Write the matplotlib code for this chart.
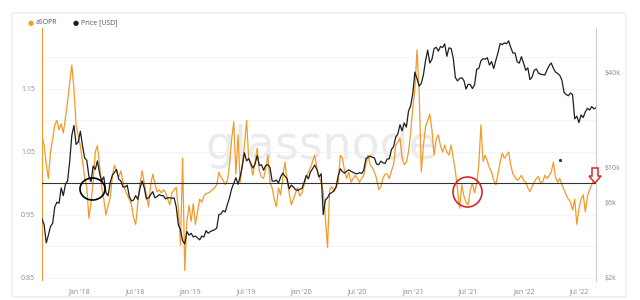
import matplotlib
matplotlib.use('Agg')
import matplotlib.pyplot as plt
from matplotlib.patches import Ellipse, FancyBboxPatch, Polygon
import pandas as pd

plt.rcParams['font.family'] = ['Open Sans', 'DejaVu Sans']

# weekly samples, end of Aug 2017 to Aug 2022
dates = pd.date_range('2017-08-30', periods=261, freq='7D')

asopr = [
    1.075, 1.06, 1.03, 1.008, 1.05, 1.07, 1.093, 1.1, 1.085, 1.095,
    1.08, 1.104, 1.13, 1.16, 1.188, 1.15, 1.093, 1.075, 1.06, 1.035,
    1.01, 0.995, 0.945, 0.97, 1.002, 1.05, 1.06, 1.03, 0.995, 0.975,
    0.95, 0.965, 0.977, 1.01, 1.029, 1.018, 1.01, 1.02, 1.002, 0.99,
    0.982, 0.975, 0.966, 0.945, 0.935, 0.971, 1.0, 1.02, 1.0, 0.982,
    0.963, 0.998, 1.015, 1.0, 0.987, 0.99, 0.985, 0.99, 0.986, 0.975,
    0.966, 0.985, 0.99, 0.994, 0.96, 0.902, 1.04, 0.862, 0.94, 0.965,
    0.94, 0.968, 0.935, 0.955, 0.975, 0.97, 0.98, 0.984, 0.985, 0.987,
    0.99, 0.993, 0.998, 1.018, 1.01, 1.005, 0.998, 1.005, 1.029, 1.07,
    1.098, 1.015, 1.077, 1.002, 1.03, 1.06, 1.1, 1.04, 1.029, 1.013,
    1.035, 1.056, 1.02, 1.01, 1.008, 1.023, 1.045, 1.002, 0.993, 0.975,
    0.963, 0.993, 0.982, 1.01, 1.034, 1.005, 0.985, 0.966, 0.975, 0.985,
    0.993, 0.98, 0.985, 0.998, 1.01, 1.018, 1.025, 1.035, 1.045, 1.025,
    1.01, 1.002, 0.987, 0.945, 0.898, 0.99, 0.995, 0.987, 0.993, 1.002,
    1.045, 1.04, 1.02, 1.008, 1.018, 1.002, 1.008, 1.013, 1.008, 1.002,
    1.008, 1.013, 1.03, 1.045, 1.03, 1.025, 1.018, 1.008, 0.99, 0.995,
    1.008, 1.015, 1.015, 1.008, 1.02, 1.03, 1.061, 1.065, 1.072, 1.04,
    1.03, 1.034, 1.05, 1.08, 1.12, 1.15, 1.212, 1.145, 1.018, 1.06,
    1.09, 1.1, 1.11, 1.085, 1.045, 1.07, 1.077, 1.06, 1.05, 1.061,
    1.05, 1.045, 1.061, 1.04, 1.02, 0.99, 0.961, 0.998, 0.98, 0.97,
    0.966, 0.99, 1.0, 0.985, 1.0, 1.03, 1.093, 1.035, 1.045, 1.035,
    1.025, 1.018, 1.005, 0.998, 1.015, 1.034, 1.048, 1.04, 1.045, 1.05,
    1.029, 1.015, 1.01, 1.005, 1.008, 1.013, 1.005, 1.002, 0.993, 0.987,
    0.995, 1.002, 1.008, 1.011, 1.0, 1.003, 1.013, 1.008, 1.012, 1.018,
    1.034, 1.01, 1.002, 1.008, 0.998, 0.99, 0.982, 0.975, 0.971, 0.958,
    0.975, 0.935, 0.96, 0.975, 0.982, 0.955, 0.98, 0.99, 0.998, 1.005, 1.008,
]

price = [
    # 2017
    4700, 4300, 3300, 3700, 4200, 4400, 5600, 6000, 5900, 7400, 6600, 7800,
    8200, 10900, 16000, 18500, 14000, 14500,
    # 2018
    17000, 13800, 11500, 11100, 8800, 8100, 10200, 9700, 11000, 9200, 8200,
    8700, 6900, 6600, 8000, 8900, 9300, 9700, 8400, 8200, 7500, 7500, 7700,
    6500, 6100, 6200, 6600, 6250, 7400, 8200, 7400, 6300, 6400, 6700, 7000,
    6400, 6500, 6700, 6600, 6600, 6300, 6400, 6400, 6350, 6400, 5600, 4300,
    4000, 3400, 3250, 3900, 3700,
    # 2019
    3800, 3600, 3650, 3550, 3450, 3650, 3600, 3950, 3800, 3900, 3950, 4000,
    4100, 5000, 5050, 5300, 5200, 5800, 6400, 7300, 7900, 8600, 7800, 8700,
    10200, 12400, 11000, 11400, 10600, 9900, 10500, 11900, 10300, 10400, 9600,
    10300, 10400, 10000, 8200, 8150, 8300, 7950, 8700, 9200, 8800, 8500, 7300,
    7700, 7500, 7200, 7150, 7250,
    # 2020
    7350, 8000, 8900, 8450, 9350, 9800, 10350, 9700, 8700, 9100, 5000, 6200,
    6400, 6800, 6900, 7100, 7500, 8800, 9800, 9400, 9200, 9450, 9650, 9450,
    9300, 9150, 9100, 9250, 9150, 9550, 11350, 11600, 11800, 11600, 11500,
    10500, 10400, 10950, 10700, 10600, 11300, 11350, 13000, 13550, 15600,
    16300, 18700, 17100, 19200, 18050, 22800, 24700,
    # 2021
    29400, 40500, 36800, 33000, 34300, 38900, 47900, 55900, 46300, 48800,
    57200, 58300, 55100, 59000, 58100, 61300, 51100, 57800, 57300, 49700,
    37400, 35600, 36900, 37300, 35800, 31600, 33800, 33800, 31800, 33600,
    42200, 42800, 47800, 49300, 48900, 50000, 44900, 47300, 42700, 48200,
    53900, 61500, 60700, 62200, 61400, 64100, 58100, 53600, 53600, 47100,
    46200, 50800, 46300,
    # 2022
    41600, 43100, 36300, 37700, 41600, 42400, 40000, 39200, 39100, 38800,
    41800, 44500, 46300, 42800, 40500, 39700, 38600, 36000, 30000, 29200,
    28600, 29800, 29100, 20400, 21200, 19300, 21600, 20800, 22600, 23800,
    23200, 24400, 23600, 24000,
]

left_ticks = [0.85, 0.95, 1.05, 1.15]
grid_levels = [0.85, 0.9, 0.95, 1.0, 1.05, 1.1, 1.15, 1.2, 1.25]
price_ticks = [2000, 6000, 10000, 40000]
price_labels = ['$2k', '$6k', '$10k', '$40k']
month_ticks = pd.date_range('2018-01-01', '2022-07-01', freq='6MS')
month_labels = [d.strftime("%b '%y") for d in month_ticks]

orange = '#f39a2a'
dark = '#1e1e1e'
label_col = '#8a8a8a'

fig = plt.figure(figsize=(6.4, 3), dpi=100)
fig.patches.append(FancyBboxPatch((12 / 640, 3 / 300), 614 / 640, 284 / 300,
                                  boxstyle='round,pad=0,rounding_size=0.006',
                                  transform=fig.transFigure, fc='none',
                                  ec='#e8e8e8', lw=0.8))

ax = fig.add_axes([42 / 640, 19 / 300, 554 / 640, 253 / 300])
ax2 = ax.twinx()

for g in grid_levels:
    ax.axhline(g, color='#f3f3f3', lw=0.6, zorder=0)

ax.text(0.505, 0.53, 'glassnode', transform=ax.transAxes, ha='center',
        va='center', fontsize=33, color='#ebebeb', zorder=0.5,
        family='DejaVu Sans')

ax.plot(dates, asopr, color=orange, lw=0.9, zorder=2)
ax.axvline(dates[0], color=orange, lw=0.8, zorder=2)
ax.axhline(1.0, color='#333333', lw=0.8, zorder=3)

ax2.plot(dates, price, color=dark, lw=0.9, zorder=2)
ax2.set_yscale('log')

ax.set_xlim(dates[0], dates[-1])
ax.set_ylim(0.8452, 1.2468)
ax2.set_ylim(1886, 77400)

ax.set_yticks(left_ticks)
ax.set_yticklabels(['%.2f' % t for t in left_ticks])
ax2.set_yticks(price_ticks)
ax2.set_yticklabels(price_labels)
ax2.yaxis.set_minor_locator(plt.NullLocator())
ax.set_xticks(month_ticks)
ax.set_xticklabels(month_labels)

ax.tick_params(axis='both', length=0, labelsize=5, labelcolor=label_col, pad=5)
ax2.tick_params(axis='y', length=0, labelsize=5, labelcolor=label_col, pad=6)

for a in (ax, ax2):
    for s in a.spines.values():
        s.set_visible(False)
ax2.spines['right'].set_visible(True)
ax2.spines['right'].set_color('#cfcfcf')
ax2.spines['right'].set_linewidth(0.8)

# annotations drawn on the screenshot
ax2.add_patch(Ellipse((50.5 / 554, 92 / 253), 25 / 554, 22 / 253,
                      transform=ax2.transAxes, fill=False, ec='black',
                      lw=1.2, zorder=5))
ax2.add_patch(Ellipse((425.5 / 554, 89 / 253), 29 / 554, 30 / 253,
                      transform=ax2.transAxes, fill=False, ec='#d42a2a',
                      lw=1.2, zorder=5))
arrow_px = [(592, 168), (598, 168), (598, 176), (601, 176), (595, 183),
            (589, 176), (592, 176)]
ax2.add_patch(Polygon([((x - 42) / 554, (281 - y) / 253) for x, y in arrow_px],
                      closed=True, transform=ax2.transAxes, fc='white',
                      ec='#d42a2a', lw=1.1, zorder=6, clip_on=False))
ax2.plot([518 / 554], [121 / 253], marker='o', ms=1.3, color='#333333',
         transform=ax2.transAxes, zorder=5)

# legend row
fig.text(31 / 640, 1 - 23 / 300, '\u25cf', color=orange, fontsize=5,
         ha='center', va='center', family='DejaVu Sans')
fig.text(36 / 640, 1 - 23 / 300, 'aSOPR', color='#555555', fontsize=5,
         va='center')
fig.text(76 / 640, 1 - 23 / 300, '\u25cf', color=dark, fontsize=5,
         ha='center', va='center', family='DejaVu Sans')
fig.text(81 / 640, 1 - 23 / 300, 'Price [USD]', color='#555555', fontsize=5,
         va='center')

fig.savefig('out.png', dpi=100)
